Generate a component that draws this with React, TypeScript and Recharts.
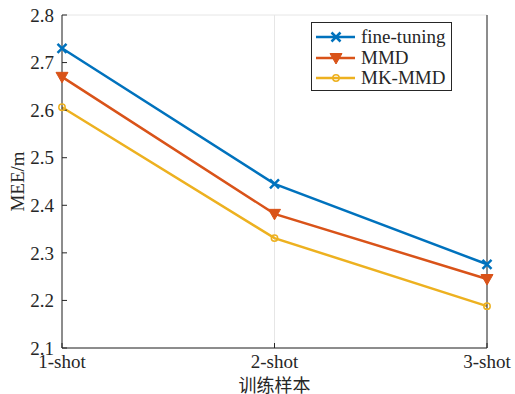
import { LineChart, Line, XAxis, YAxis, CartesianGrid } from 'recharts';

const categories = ['1-shot', '2-shot', '3-shot'];
const fineTuning = [2.73, 2.445, 2.276];
const mmd = [2.67, 2.382, 2.245];
const mkMmd = [2.606, 2.331, 2.188];
const yTicks = [2.1, 2.2, 2.3, 2.4, 2.5, 2.6, 2.7, 2.8];

const data = categories.map((shot, i) => ({
  shot,
  fineTuning: fineTuning[i],
  mmd: mmd[i],
  mkMmd: mkMmd[i],
}));

const BLUE = '#0072BD';
const ORANGE = '#D95319';
const YELLOW = '#EDB120';
const AXIS = '#262626';
const FONT = '"Times New Roman", "Liberation Serif", serif';

const CrossDot = (props: any) => {
  const { cx, cy } = props;
  if (cx == null || cy == null) return null;
  const s = 4.5;
  return (
    <g stroke={BLUE} strokeWidth={2.5}>
      <line x1={cx - s} y1={cy - s} x2={cx + s} y2={cy + s} />
      <line x1={cx - s} y1={cy + s} x2={cx + s} y2={cy - s} />
    </g>
  );
};

const TriDot = (props: any) => {
  const { cx, cy } = props;
  if (cx == null || cy == null) return null;
  const w = 6;
  return (
    <polygon
      points={`${cx - w},${cy - 4.5} ${cx + w},${cy - 4.5} ${cx},${cy + 6}`}
      fill={ORANGE}
      stroke={ORANGE}
      strokeWidth={1}
    />
  );
};

const CircleDot = (props: any) => {
  const { cx, cy } = props;
  if (cx == null || cy == null) return null;
  return <circle cx={cx} cy={cy} r={3.2} fill="none" stroke={YELLOW} strokeWidth={1.5} />;
};

const legendItems = [
  { label: 'fine-tuning', color: BLUE, Dot: CrossDot },
  { label: 'MMD', color: ORANGE, Dot: TriDot },
  { label: 'MK-MMD', color: YELLOW, Dot: CircleDot },
];

export default function App() {
  return (
    <div style={{ position: 'absolute', left: 0, top: 0, width: 515, height: 394, background: '#fff' }}>
      <LineChart
        width={515}
        height={394}
        data={data}
        margin={{ top: 15, right: 0, left: 0, bottom: 0 }}
        style={{ fontFamily: FONT }}
      >
        <CartesianGrid stroke="#e6e6e6" strokeWidth={1} />
        <XAxis
          dataKey="shot"
          xAxisId="bottom"
          height={46}
          stroke={AXIS}
          tickSize={-5}
          tickMargin={12}
          tick={{ fill: AXIS, fontSize: 19, fontFamily: FONT }}
          interval={0}
          label={{
            value: '训练样本',
            position: 'insideBottom',
            offset: 0,
            fill: AXIS,
            fontSize: 18,
            fontFamily: '"Noto Sans CJK SC", sans-serif',
            dy: -2,
          }}
        />
        <XAxis
          dataKey="shot"
          xAxisId="top"
          orientation="top"
          height={0}
          stroke={AXIS}
          tickSize={-5}
          tick={false}
          interval={0}
        />
        <YAxis
          yAxisId="left"
          domain={[2.1, 2.8]}
          ticks={yTicks}
          width={62}
          stroke={AXIS}
          tickSize={-5}
          tickMargin={13}
          tick={{ fill: AXIS, fontSize: 19, fontFamily: FONT }}
          tickFormatter={(v: number) => v.toFixed(1)}
          label={{
            value: 'MEE/m',
            angle: -90,
            position: 'insideLeft',
            offset: 17,
            fill: AXIS,
            fontSize: 19,
            fontFamily: FONT,
            style: { textAnchor: 'middle' },
          }}
        />
        <YAxis
          yAxisId="right"
          orientation="right"
          domain={[2.1, 2.8]}
          ticks={yTicks}
          width={28}
          stroke={AXIS}
          tickSize={-5}
          tick={false}
        />
        <Line
          xAxisId="bottom"
          yAxisId="left"
          dataKey="fineTuning"
          stroke={BLUE}
          strokeWidth={2.5}
          dot={<CrossDot />}
          activeDot={false}
          isAnimationActive={false}
        />
        <Line
          xAxisId="bottom"
          yAxisId="left"
          dataKey="mmd"
          stroke={ORANGE}
          strokeWidth={2.5}
          dot={<TriDot />}
          activeDot={false}
          isAnimationActive={false}
        />
        <Line
          xAxisId="bottom"
          yAxisId="left"
          dataKey="mkMmd"
          stroke={YELLOW}
          strokeWidth={2.5}
          dot={<CircleDot />}
          activeDot={false}
          isAnimationActive={false}
        />
      </LineChart>
      <div
        style={{
          position: 'absolute',
          left: 311,
          top: 22,
          width: 141,
          height: 69,
          border: `1px solid ${AXIS}`,
          background: '#fff',
          fontFamily: FONT,
          fontSize: 19,
          color: AXIS,
          paddingTop: 4,
          boxSizing: 'border-box',
        }}
      >
        {legendItems.map(({ label, color, Dot }) => (
          <div key={label} style={{ display: 'flex', alignItems: 'center', height: 20.5 }}>
            <svg width={47} height={20} style={{ marginLeft: 2 }}>
              <line x1={2} y1={10} x2={41} y2={10} stroke={color} strokeWidth={2.5} />
              <Dot cx={22} cy={10} />
            </svg>
            <span style={{ lineHeight: '20px' }}>{label}</span>
          </div>
        ))}
      </div>
    </div>
  );
}
